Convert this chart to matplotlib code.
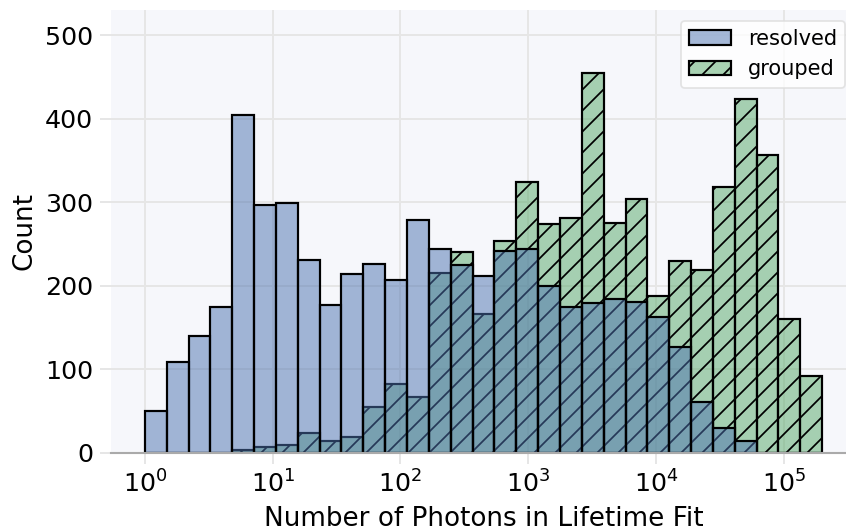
import numpy as np
import matplotlib
matplotlib.use("Agg")
import matplotlib.pyplot as plt
from matplotlib.patches import Patch

# ---- data ----
log_min, log_max, n_bins = 0.0, 5.30, 31
resolved_counts = [50, 109, 140, 174, 404, 296, 299, 231, 177, 214, 226, 207, 279,
                   244, 225, 212, 242, 244, 200, 175, 179, 184, 181, 162, 126, 61,
                   30, 14, 0, 0, 0]
grouped_counts = [0, 0, 0, 0, 3, 7, 9, 23, 14, 19, 55, 82, 67,
                  215, 240, 166, 254, 324, 274, 281, 455, 275, 304, 188, 230, 219,
                  318, 424, 356, 160, 92]
series_labels = ["resolved", "grouped"]
x_label = "Number of Photons in Lifetime Fit"
y_label = "Count"
y_ticks = [0, 100, 200, 300, 400, 500]

# ---- style ----
DPI = 126
W, H = 846, 532
bg = "#f6f7fb"
grid_c = "#e6e6e6"
blue = "#4c72b0"
green = "#55a868"

plt.rcParams["font.family"] = ["DejaVu Sans"]
plt.rcParams["hatch.linewidth"] = 1.0

fig = plt.figure(figsize=(W / DPI, H / DPI), dpi=DPI)
ax_left, ax_right = 111 / W, 856 / W
ax_top, ax_bottom = 1 - 10 / H, 1 - 452.7 / H
ax = fig.add_axes([ax_left, ax_bottom, ax_right - ax_left, ax_top - ax_bottom])
ax.set_facecolor(bg)

edges = np.logspace(log_min, log_max, n_bins + 1)
lefts = edges[:-1]
widths = np.diff(edges)

lw = 1.25
ax.bar(lefts, grouped_counts, width=widths, align="edge",
       facecolor=matplotlib.colors.to_rgba(green, 0.5), edgecolor="black",
       linewidth=lw, hatch="//", zorder=1)
ax.bar(lefts, resolved_counts, width=widths, align="edge",
       facecolor=matplotlib.colors.to_rgba(blue, 0.5), edgecolor="black",
       linewidth=lw, zorder=1.1)

ax.set_xscale("log")
ax.set_xlim(10 ** -0.265, 10 ** 5.565)
ax.set_ylim(0, 530)
ax.set_yticks(y_ticks)
ax.xaxis.set_minor_locator(matplotlib.ticker.NullLocator())

ax.grid(True, color=grid_c, linewidth=1.1, zorder=0)
ax.set_axisbelow(True)
for s in ["top", "right", "left"]:
    ax.spines[s].set_visible(False)
ax.spines["bottom"].set_color("#aaaaaa")
ax.spines["bottom"].set_linewidth(1.2)
ax.spines["bottom"].set_zorder(3)

ax.tick_params(axis="both", which="major", length=6.3, width=1.1, color=grid_c,
               labelsize=14.5, labelcolor="black", pad=4)

ax.set_xlabel(x_label, fontsize=15, labelpad=4.5)
ax.set_ylabel(y_label, fontsize=15)

handles = [
    Patch(facecolor=matplotlib.colors.to_rgba(blue, 0.5), edgecolor="black", linewidth=lw),
    Patch(facecolor=matplotlib.colors.to_rgba(green, 0.5), edgecolor="black", linewidth=lw, hatch="//"),
]
leg = ax.legend(handles, series_labels, loc="upper right", fontsize=12,
                frameon=True, fancybox=True, framealpha=0.8)
leg.get_frame().set_edgecolor("#dddddd")

fig.savefig("out.png", dpi=DPI)
